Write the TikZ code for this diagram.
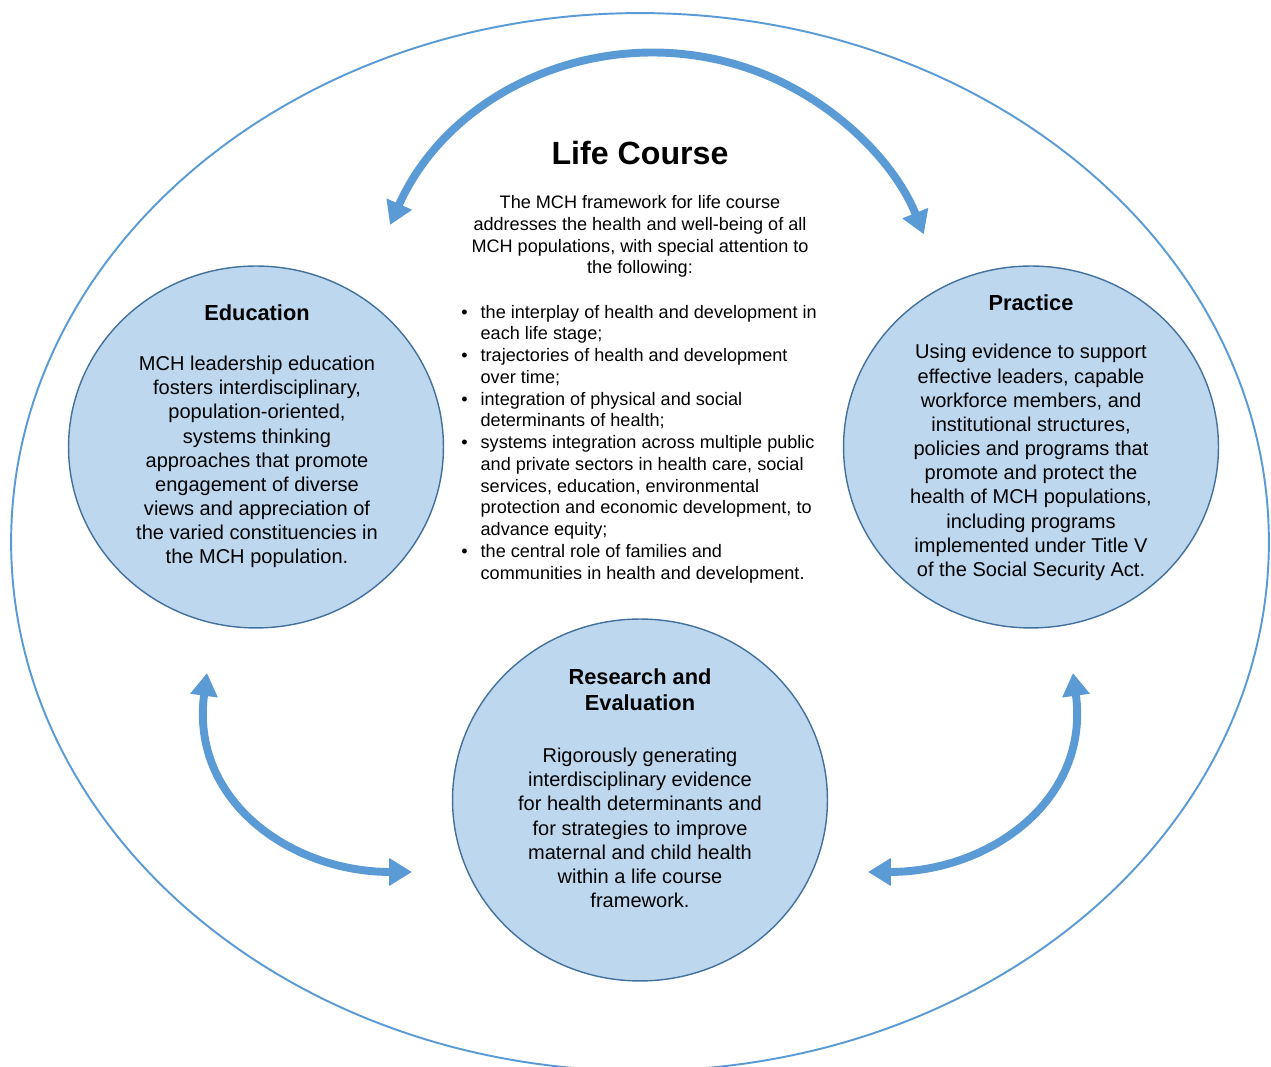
\documentclass[tikz,border=0pt]{standalone}
\usepackage{fontspec}
\setmainfont{Liberation Sans}
\usetikzlibrary{arrows.meta,shapes.geometric}
\definecolor{arrblue}{HTML}{5B9BD5}
\definecolor{circfill}{HTML}{BDD7EE}
\definecolor{circline}{HTML}{41719C}
\definecolor{ringblue}{HTML}{5B9BD5}
\begin{document}
\begin{tikzpicture}[x=0.02cm,y=0.02cm,
  bubble/.style={ellipse, draw=circline, line width=0.8pt, fill=circfill, inner sep=0pt, minimum width=7.5cm, minimum height=7.24cm},
  head/.style={font=\fontsize{12.4}{14.7}\selectfont\bfseries, align=center, inner sep=0pt},
  body/.style={font=\fontsize{11.4}{13.75}\selectfont, align=center, inner sep=0pt},
  small/.style={font=\fontsize{10.3}{12.37}\selectfont, inner sep=0pt},
  flow/.style={draw=arrblue, line width=4.5pt, {Triangle[width=15pt,length=13pt]}-{Triangle[width=15pt,length=13pt]}},
]
\useasboundingbox (0,0) rectangle (1271,1067);
\clip (0,0) rectangle (1271,1067);
\fill[white] (0,0) rectangle (1271,1067);

% outer ring
\node (ring) [ellipse, draw=ringblue, line width=1.1pt, minimum width=25.16cm, minimum height=21.16cm, inner sep=0pt] at (640,525) {};

% circles
\node (edu)  [bubble] at (256,620) {};
\node (prac) [bubble] at (1031,620) {};
\node (res)  [bubble] at (640,267) {};

% title and intro
\node (title) [font=\fontsize{18.3}{22}\selectfont\bfseries, inner sep=0pt] at (640,914) {Life Course};
\node (intro) [small, align=center] at (640,830.5) {The MCH framework for life course\\
addresses the health and well-being of all\\
MCH populations, with special attention to\\
the following:};
\node (list) [small, align=left, anchor=west] at (461,623) {%
\makebox[11pt][l]{•}the interplay of health and development in\\
\makebox[11pt][l]{}each life stage;\\
\makebox[11pt][l]{•}trajectories of health and development\\
\makebox[11pt][l]{}over time;\\
\makebox[11pt][l]{•}integration of physical and social\\
\makebox[11pt][l]{}determinants of health;\\
\makebox[11pt][l]{•}systems integration across multiple public\\
\makebox[11pt][l]{}and private sectors in health care, social\\
\makebox[11pt][l]{}services, education, environmental\\
\makebox[11pt][l]{}protection and economic development, to\\
\makebox[11pt][l]{}advance equity;\\
\makebox[11pt][l]{•}the central role of families and\\
\makebox[11pt][l]{}communities in health and development.};

% education text
\node (eduhead) [head] at (257,754) {Education};
\node (edubody) [body] at (257,605) {MCH leadership education\\
fosters interdisciplinary,\\
population-oriented,\\
systems thinking\\
approaches that promote\\
engagement of diverse\\
views and appreciation of\\
the varied constituencies in\\
the MCH population.};

% practice text
\node (prachead) [head] at (1031,764) {Practice};
\node (pracbody) [body] at (1031,604.5) {Using evidence to support\\
effective leaders, capable\\
workforce members, and\\
institutional structures,\\
policies and programs that\\
promote and protect the\\
health of MCH populations,\\
including programs\\
implemented under Title V\\
of the Social Security Act.};

% research text
\node (reshead) [head] at (640,377) {Research and\\Evaluation};
\node (resbody) [body] at (640,239) {Rigorously generating\\
interdisciplinary evidence\\
for health determinants and\\
for strategies to improve\\
maternal and child health\\
within a life course\\
framework.};

% arrows
\coordinate (tl) at (390,842);
\coordinate (bl1) at (207,394);
\coordinate (bl2) at (412,195);
\coordinate (br1) at (1073,394);
\coordinate (br2) at (868,195);
\draw[flow] (tl) arc[start angle=156, end angle=22, radius=290];
\draw[flow] (bl1) .. controls (190,267) and (290,195) .. (bl2);
\draw[flow] (br1) .. controls (1090,267) and (990,195) .. (br2);
\end{tikzpicture}
\end{document}
